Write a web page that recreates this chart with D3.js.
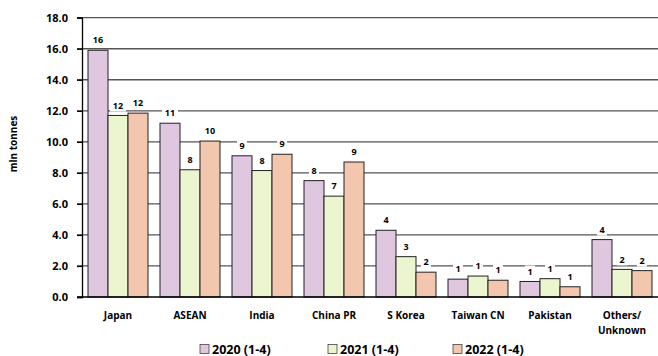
<!DOCTYPE html>
<html>
<head>
<meta charset="utf-8">
<script src="https://cdn.jsdelivr.net/npm/d3@7"></script>
<style>
  body { margin: 0; background: #fff; }
  svg { display: block; font-family: "Open Sans", sans-serif; font-weight: bold; }
</style>
</head>
<body>
<div id="chart"></div>
<script>
const categories = ["Japan", "ASEAN", "India", "China PR", "S Korea", "Taiwan CN", "Pakistan", "Others/\nUnknown"];
const seriesNames = ["2020 (1-4)", "2021 (1-4)", "2022 (1-4)"];
const v2020 = [15.9, 11.2, 9.1, 7.5, 4.3, 1.15, 1.0, 3.7];
const v2021 = [11.7, 8.2, 8.15, 6.5, 2.6, 1.35, 1.18, 1.78];
const v2022 = [11.85, 10.05, 9.2, 8.7, 1.6, 1.08, 0.66, 1.7];
const yTicks = [0, 2, 4, 6, 8, 10, 12, 14, 16, 18];
const colors = ["#dfc7df", "#ebf5d0", "#f3c7ae"];

function draw_chart() {
  const width = 658, height = 356;
  const margin = {left: 82, right: 0, top: 17.7, bottom: 59};
  const series = [v2020, v2021, v2022];

  const svg = d3.select("#chart").append("svg")
    .attr("width", width).attr("height", height);

  const x = d3.scaleBand().domain(categories)
    .range([margin.left, width - margin.right]).paddingInner(0).paddingOuter(0);
  const inner = d3.scaleBand().domain(d3.range(3))
    .range([6, x.bandwidth() - 6]);
  const y = d3.scaleLinear().domain([0, 18])
    .range([height - margin.bottom, margin.top]);

  // grid lines
  svg.append("g")
    .selectAll("line")
    .data(yTicks.filter(d => d > 0))
    .join("line")
    .attr("x1", margin.left - 5).attr("x2", width)
    .attr("y1", d => y(d)).attr("y2", d => y(d))
    .attr("stroke", "#555").attr("stroke-width", 1.3);

  // y axis
  const yAxis = svg.append("g")
    .attr("transform", `translate(${margin.left},0)`)
    .call(d3.axisLeft(y).tickValues(yTicks).tickFormat(d3.format(".1f")).tickSize(5).tickPadding(9));
  yAxis.select(".domain").attr("stroke", "#000").attr("stroke-width", 1.3);
  yAxis.selectAll(".tick line").attr("stroke", "#000").attr("stroke-width", 1.3);
  yAxis.selectAll(".tick text").attr("font-size", 11).attr("font-weight", "bold")
    .attr("font-family", "'Open Sans', sans-serif").attr("fill", "#000");

  svg.append("text")
    .attr("transform", `translate(17,144) rotate(-90)`)
    .attr("text-anchor", "middle")
    .attr("font-size", 10)
    .text("mln tonnes");

  // bars
  const groups = svg.append("g")
    .selectAll("g")
    .data(categories)
    .join("g")
    .attr("transform", d => `translate(${x(d)},0)`);

  groups.selectAll("rect")
    .data((d, i) => series.map((s, k) => ({k, v: s[i]})))
    .join("rect")
    .attr("x", d => inner(d.k))
    .attr("y", d => y(d.v))
    .attr("width", inner.bandwidth())
    .attr("height", d => y(0) - y(d.v))
    .attr("fill", d => colors[d.k])
    .attr("stroke", "#222")
    .attr("stroke-width", 1);

  // value labels with white backing
  const lab = groups.selectAll("g.lab")
    .data((d, i) => series.map((s, k) => ({k, v: s[i]})))
    .join("g").attr("class", "lab")
    .attr("transform", d => `translate(${inner(d.k) + inner.bandwidth() / 2},${y(d.v) - 10})`);
  lab.append("rect")
    .attr("x", d => Math.round(d.v) >= 10 ? -8 : -5)
    .attr("y", -6)
    .attr("width", d => Math.round(d.v) >= 10 ? 16 : 10)
    .attr("height", 12)
    .attr("fill", "#fff");
  lab.append("text")
    .attr("text-anchor", "middle")
    .attr("dy", "0.35em")
    .attr("font-size", 9)
    .text(d => Math.round(d.v));

  // x axis baseline
  svg.append("line")
    .attr("x1", margin.left - 5).attr("x2", width)
    .attr("y1", y(0)).attr("y2", y(0))
    .attr("stroke", "#000").attr("stroke-width", 1.3);

  // category labels
  svg.append("g")
    .selectAll("text")
    .data(categories)
    .join("text")
    .attr("x", d => x(d) + x.bandwidth() / 2)
    .attr("y", 319)
    .attr("text-anchor", "middle")
    .attr("font-size", 10)
    .each(function(d) {
      const parts = d.split("\n");
      d3.select(this).selectAll("tspan").data(parts).join("tspan")
        .attr("x", x(d) + x.bandwidth() / 2)
        .attr("dy", (p, j) => j === 0 ? 0 : 15)
        .text(p => p);
    });

  // legend
  const legendX = [200, 328, 453];
  const legend = svg.append("g")
    .selectAll("g")
    .data(seriesNames)
    .join("g")
    .attr("transform", (d, i) => `translate(${legendX[i]},349)`);
  legend.append("rect")
    .attr("x", 0).attr("y", -4.5)
    .attr("width", 9).attr("height", 9)
    .attr("fill", (d, i) => colors[i])
    .attr("stroke", "#444").attr("stroke-width", 0.8);
  legend.append("text")
    .attr("x", 12).attr("dy", "0.36em")
    .attr("font-size", 12.5)
    .text(d => d);
}
draw_chart();
</script>
</body>
</html>
